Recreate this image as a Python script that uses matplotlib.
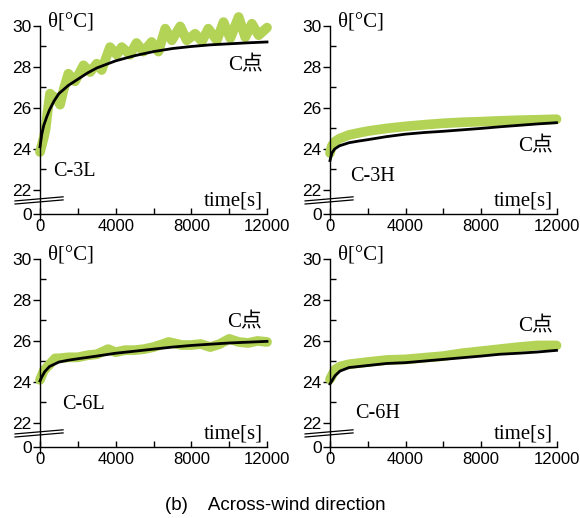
import matplotlib
matplotlib.use("Agg")
import matplotlib.pyplot as plt
from matplotlib.ticker import FixedLocator

# C-3L
t_3l_meas = [0, 100, 200, 300, 400, 530, 700, 850, 1060, 1250, 1500, 1850, 2300, 2650, 3000, 3260,
             3700, 4060, 4320, 4760, 5100, 5470, 5900, 6260, 6620, 6970, 7410, 7760, 8200, 8560,
             8900, 9350, 9700, 10060, 10500, 10850, 11200, 11560, 12000]
v_3l_meas = [23.85, 24.2, 24.55, 25.0, 25.8, 26.7, 26.55, 26.5, 26.16, 26.9, 27.67, 27.3, 28.08, 27.75,
             28.16, 27.85, 28.97, 28.6, 28.97, 28.6, 29.17, 28.75, 29.22, 28.75, 29.87, 29.3, 29.98,
             29.3, 29.62, 29.25, 29.87, 29.3, 30.19, 29.4, 30.44, 29.45, 30.11, 29.55, 29.92]
t_3l_calc = [0, 100, 200, 350, 500, 750, 1000, 1500, 2000, 2500, 3000, 4000, 5000, 6000, 7000,
             8000, 9000, 10000, 11000, 12000]
v_3l_calc = [24.1, 24.75, 25.15, 25.55, 25.9, 26.35, 26.7, 27.1, 27.4, 27.7, 27.95, 28.3, 28.55,
             28.75, 28.9, 29.0, 29.08, 29.13, 29.18, 29.22]

# C-3H
t_3h_meas = [0, 100, 250, 500, 1000, 1500, 2000, 3000, 4000, 5000, 6000, 7000, 8000, 9000, 10000, 11000, 12000]
v_3h_meas = [23.8, 24.15, 24.35, 24.5, 24.68, 24.78, 24.87, 25.0, 25.1, 25.18, 25.25, 25.3, 25.33,
             25.37, 25.4, 25.42, 25.45]
t_3h_calc = [0, 100, 250, 500, 1000, 1500, 2000, 3000, 4000, 5000, 6000, 7000, 8000, 9000, 10000, 11000, 12000]
v_3h_calc = [23.43, 23.8, 24.0, 24.15, 24.3, 24.38, 24.45, 24.6, 24.72, 24.8, 24.86, 24.93, 25.0,
             25.08, 25.15, 25.22, 25.28]

# C-6L
t_6l_meas = [0, 200, 500, 800, 1000, 1500, 2000, 2500, 3000, 3600, 4000, 4500, 5000, 5500, 6000,
             6500, 6800, 7500, 8000, 8500, 9000, 9500, 10000, 10500, 11000, 11500, 12000]
v_6l_meas = [24.1, 24.55, 24.85, 25.15, 25.15, 25.2, 25.2, 25.3, 25.35, 25.6, 25.45, 25.55, 25.55,
             25.6, 25.7, 25.85, 25.95, 25.8, 25.8, 25.85, 25.7, 25.85, 26.1, 25.95, 25.9, 26.0, 25.95]
t_6l_calc = [0, 100, 250, 500, 1000, 1500, 2000, 3000, 4000, 5000, 6000, 7000, 8000, 9000, 10000, 11000, 12000]
v_6l_calc = [24.05, 24.25, 24.5, 24.75, 24.97, 25.06, 25.13, 25.26, 25.4, 25.5, 25.6, 25.7, 25.78,
             25.84, 25.9, 25.94, 25.98]

# C-6H
t_6h_meas = [0, 265, 530, 1000, 2000, 3000, 4000, 5000, 6000, 7000, 8000, 9000, 10000, 11000, 12000]
v_6h_meas = [24.13, 24.6, 24.75, 24.86, 24.97, 25.07, 25.1, 25.18, 25.26, 25.4, 25.5, 25.6, 25.7, 25.78, 25.78]
t_6h_calc = [0, 265, 530, 1000, 2000, 3000, 4000, 5000, 6000, 7000, 8000, 9000, 10000, 11000, 12000]
v_6h_calc = [23.9, 24.3, 24.53, 24.7, 24.8, 24.9, 24.94, 25.02, 25.1, 25.18, 25.26, 25.35, 25.4, 25.46, 25.54]

case_names = ["C-3L", "C-3H", "C-6L", "C-6H"]
# (x, y) of case label and of "C点" label
case_pos = [(690, 22.88), (1060, 22.63), (1160, 22.91), (1320, 22.48)]
point_pos = [(11800, 28.05), (11800, 24.1), (11750, 26.87), (11800, 26.69)]

GREEN = "#b3d357"
SERIF = ["Liberation Serif", "Noto Sans CJK JP"]
SANS = ["Liberation Sans", "DejaVu Sans"]

Y0 = 22 - 24 / 20.5   # position of the "0" tick below the axis break

fig = plt.figure(figsize=(5.8, 5.18), dpi=100)
boxes = [
    [40 / 580, 1 - 220 / 518, 227 / 580, 194 / 518],
    [330 / 580, 1 - 220 / 518, 226.5 / 580, 194 / 518],
    [40 / 580, 1 - 453 / 518, 227 / 580, 194 / 518],
    [330 / 580, 1 - 453 / 518, 226.5 / 580, 194 / 518],
]
series = [
    (t_3l_meas, v_3l_meas, t_3l_calc, v_3l_calc),
    (t_3h_meas, v_3h_meas, t_3h_calc, v_3h_calc),
    (t_6l_meas, v_6l_meas, t_6l_calc, v_6l_calc),
    (t_6h_meas, v_6h_meas, t_6h_calc, v_6h_calc),
]

for i, box in enumerate(boxes):
    ax = fig.add_axes(box)
    tm, vm, tc, vc = series[i]
    ax.plot(tm, vm, color=GREEN, lw=7, solid_capstyle="round", solid_joinstyle="round",
            clip_on=False, zorder=2)
    ax.plot(tc, vc, color="black", lw=2.0, clip_on=False, zorder=3)

    ax.set_xlim(0, 12000)
    ax.set_ylim(Y0 - 0.3, 30)
    for s in ["top", "right"]:
        ax.spines[s].set_visible(False)
    ax.spines["bottom"].set_position(("data", Y0))
    ax.spines["left"].set_linewidth(1.0)
    ax.spines["bottom"].set_linewidth(1.0)

    ax.xaxis.set_major_locator(FixedLocator([0, 4000, 8000, 12000]))
    ax.xaxis.set_minor_locator(FixedLocator([2000, 6000, 10000]))
    ax.yaxis.set_major_locator(FixedLocator([Y0, 22, 24, 26, 28, 30]))
    ax.yaxis.set_minor_locator(FixedLocator([23, 25, 27, 29]))
    ax.set_yticklabels(["0", "22", "24", "26", "28", "30"])
    ax.tick_params(axis="x", which="both", direction="in", length=4, width=1, pad=4)
    ax.tick_params(axis="y", which="major", direction="out", length=5, width=1, pad=1)
    ax.tick_params(axis="y", which="minor", direction="in", length=4, width=1)
    for lab in ax.get_xticklabels():
        lab.set_family(SANS)
        lab.set_fontsize(12)
    for lab in ax.get_yticklabels():
        lab.set_family(SANS)
        lab.set_fontsize(12.5)

    # axis break marks
    for dy in (0.0, 0.15):
        ax.plot([-1320, 1220], [21.46 - dy, 21.66 - dy], color="black", lw=0.9, clip_on=False, zorder=4)

    ax.text(420, 30.2, "θ[°C]", family=SERIF, fontsize=15, ha="left", va="center")
    ax.text(11800, 21.46, "time[s]", family=SERIF, fontsize=15, ha="right", va="center")
    ax.text(case_pos[i][0], case_pos[i][1], case_names[i], family=SERIF, fontsize=14.5,
            ha="left", va="center")
    ax.text(point_pos[i][0], point_pos[i][1], "C点", family=SERIF, fontsize=15,
            ha="right", va="center")

fig.text(0.474, 1 - 505 / 518, "(b)    Across-wind direction", family=SANS,
         fontsize=13.5, ha="center", va="center")

fig.savefig("out.png", dpi=100)
